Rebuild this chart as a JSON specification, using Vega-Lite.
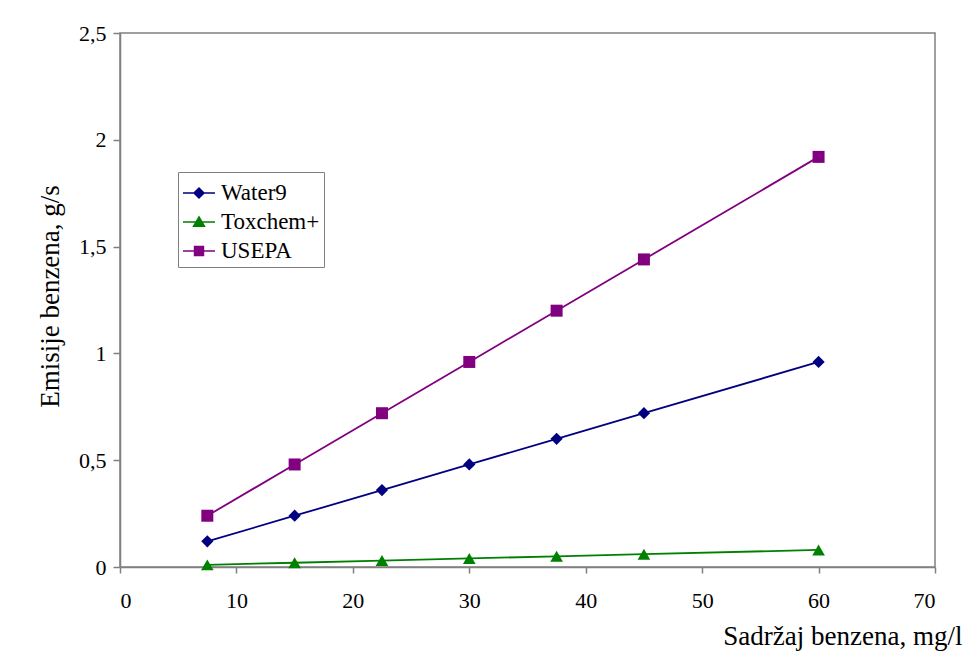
{
  "$schema": "https://vega.github.io/schema/vega-lite/v6.json",
  "width": 815,
  "height": 534,
  "autosize": {"type": "none"},
  "padding": {"left": 120, "top": 33, "right": 29, "bottom": 90},
  "background": "white",
  "config": {
    "view": {"stroke": "#808080", "strokeWidth": 1.5},
    "font": "Liberation Serif",
    "axis": {
      "grid": false,
      "domainColor": "#808080",
      "domainWidth": 1.5,
      "tickColor": "#808080",
      "tickWidth": 1.5,
      "labelFont": "Liberation Serif",
      "labelFontSize": 22,
      "labelColor": "#000000",
      "titleFont": "Liberation Serif",
      "titleFontSize": 27,
      "titleFontWeight": "normal",
      "titleColor": "#000000"
    }
  },
  "data": {
    "values": [
      {"x": 7.5, "y": 0.12, "s": "Water9"},
      {"x": 15, "y": 0.24, "s": "Water9"},
      {"x": 22.5, "y": 0.36, "s": "Water9"},
      {"x": 30, "y": 0.48, "s": "Water9"},
      {"x": 37.5, "y": 0.6, "s": "Water9"},
      {"x": 45, "y": 0.72, "s": "Water9"},
      {"x": 60, "y": 0.96, "s": "Water9"},
      {"x": 7.5, "y": 0.01, "s": "Toxchem+"},
      {"x": 15, "y": 0.02, "s": "Toxchem+"},
      {"x": 22.5, "y": 0.03, "s": "Toxchem+"},
      {"x": 30, "y": 0.04, "s": "Toxchem+"},
      {"x": 37.5, "y": 0.05, "s": "Toxchem+"},
      {"x": 45, "y": 0.06, "s": "Toxchem+"},
      {"x": 60, "y": 0.08, "s": "Toxchem+"},
      {"x": 7.5, "y": 0.24, "s": "USEPA"},
      {"x": 15, "y": 0.48, "s": "USEPA"},
      {"x": 22.5, "y": 0.72, "s": "USEPA"},
      {"x": 30, "y": 0.96, "s": "USEPA"},
      {"x": 37.5, "y": 1.2, "s": "USEPA"},
      {"x": 45, "y": 1.44, "s": "USEPA"},
      {"x": 60, "y": 1.92, "s": "USEPA"}
    ]
  },
  "encoding": {
    "x": {
      "field": "x",
      "type": "quantitative",
      "scale": {"domain": [0, 70], "nice": false, "zero": true},
      "axis": {
        "values": [0, 10, 20, 30, 40, 50, 60, 70],
        "title": "Sadržaj benzena, mg/l",
        "tickSize": 6,
        "labelPadding": 17,
        "titleAnchor": "end",
        "titleAlign": "right",
        "titleX": 842,
        "titleY": 77,
        "titleBaseline": "alphabetic"
      }
    },
    "y": {
      "field": "y",
      "type": "quantitative",
      "scale": {"domain": [0, 2.5], "nice": false},
      "axis": {
        "values": [0, 0.5, 1, 1.5, 2, 2.5],
        "labelExpr": "replace(format(datum.value, '~g'), '.', ',')",
        "title": "Emisije benzena, g/s",
        "tickSize": 7,
        "labelPadding": 7,
        "titleX": -70,
        "titleY": 263,
        "titleAngle": -90,
        "titleAlign": "center",
        "titleBaseline": "middle"
      }
    },
    "color": {
      "field": "s",
      "type": "nominal",
      "scale": {"domain": ["Water9", "Toxchem+", "USEPA"], "range": ["#000080", "#008000", "#800080"]},
      "legend": {
        "title": null,
        "orient": "none",
        "legendX": 58,
        "legendY": 139,
        "strokeColor": "#808080",
        "padding": 4,
        "fillColor": "white",
        "labelFont": "Liberation Serif",
        "labelFontSize": 23,
        "labelColor": "#000000",
        "labelOffset": 5,
        "symbolSize": 1024,
        "rowPadding": 0,
        "encode": {
          "symbols": {
            "update": {
              "shape": {"signal": "datum.value == 'Water9' ? 'M-1,0H1M0,-0.31L0.31,0L0,0.31L-0.31,0Z' : datum.value == 'Toxchem+' ? 'M-1,0H1M0,-0.32L0.34,0.26L-0.34,0.26Z' : 'M-1,0H1M-0.28,-0.28H0.28V0.28H-0.28Z'"},
              "fill": {"signal": "scale('color', datum.value)"},
              "stroke": {"signal": "scale('color', datum.value)"},
              "strokeWidth": {"value": 1.5},
              "opacity": {"value": 1},
              "fillOpacity": {"value": 1},
              "size": {"value": 1024}
            }
          }
        }
      }
    }
  },
  "layer": [
    {
      "mark": {"type": "line", "strokeWidth": 1.8},
      "encoding": {"detail": {"field": "s", "type": "nominal"}}
    },
    {
      "transform": [{"filter": "datum.s == 'Water9'"}],
      "mark": {"type": "point", "filled": true, "opacity": 1, "shape": "diamond", "size": 150}
    },
    {
      "transform": [{"filter": "datum.s == 'Toxchem+'"}],
      "mark": {"type": "point", "filled": true, "opacity": 1, "shape": "triangle-up", "size": 160}
    },
    {
      "transform": [{"filter": "datum.s == 'USEPA'"}],
      "mark": {"type": "point", "filled": true, "opacity": 1, "shape": "square", "size": 144}
    }
  ]
}
